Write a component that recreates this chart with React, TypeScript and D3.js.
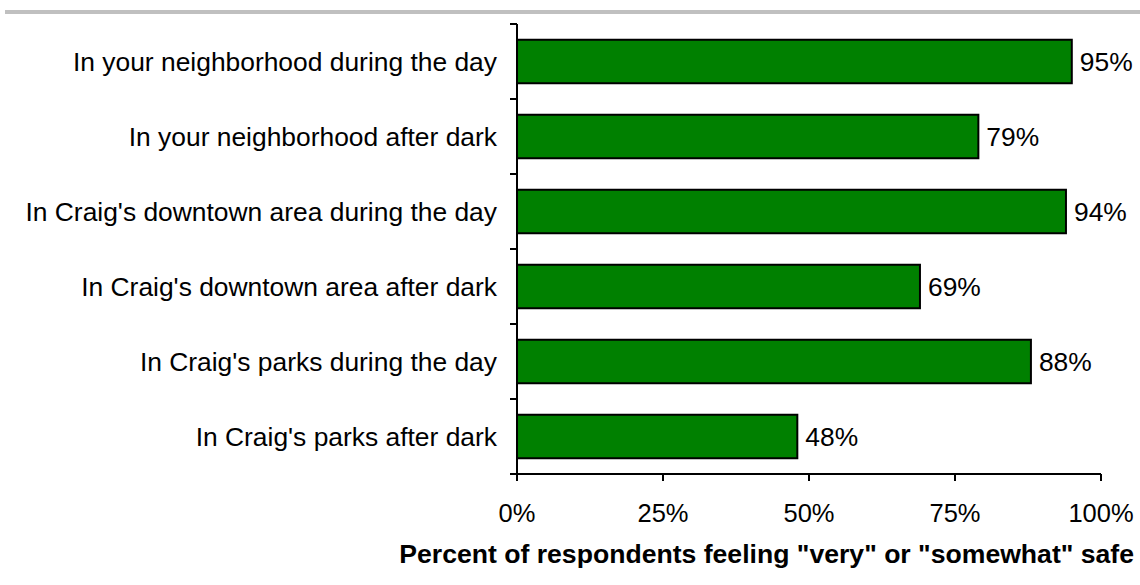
import React, { useEffect, useRef } from 'react';
import * as d3 from 'd3';

const categories = [
  'In your neighborhood during the day',
  'In your neighborhood after dark',
  "In Craig's downtown area during the day",
  "In Craig's downtown area after dark",
  "In Craig's parks during the day",
  "In Craig's parks after dark",
];
const values = [95, 79, 94, 69, 88, 48];
const ticks = [0, 25, 50, 75, 100];
const axisTitle = 'Percent of respondents feeling "very" or "somewhat" safe';

const App: React.FC = () => {
  const ref = useRef<SVGSVGElement>(null);

  useEffect(() => {
    const svg = d3.select(ref.current);
    svg.selectAll('*').remove();
    const font = 'Liberation Sans, Arial, sans-serif';

    const left = 517;
    const right = 1101;
    const top = 24;
    const bottom = 474;

    const x = d3.scaleLinear().domain([0, 100]).range([left, right]);
    const y = d3.scaleBand().domain(categories).range([top, bottom]).paddingInner(0.42).paddingOuter(0.21);

    // gray rule at top
    svg.append('rect').attr('x', 5).attr('y', 10).attr('width', 1135).attr('height', 4).attr('fill', '#c0c0c0');

    const data = categories.map((c, i) => ({ c, v: values[i] }));

    svg
      .append('g')
      .selectAll('rect')
      .data(data)
      .join('rect')
      .attr('x', x(0))
      .attr('y', (d) => y(d.c) ?? 0)
      .attr('width', (d) => x(d.v) - x(0))
      .attr('height', y.bandwidth())
      .attr('fill', '#008000')
      .attr('stroke', '#000')
      .attr('stroke-width', 2);

    svg
      .append('g')
      .selectAll('text')
      .data(data)
      .join('text')
      .attr('x', (d) => x(d.v) + 8)
      .attr('y', (d) => (y(d.c) ?? 0) + y.bandwidth() / 2 + 9)
      .attr('font-family', font)
      .attr('font-size', 26.4)
      .attr('fill', '#000')
      .text((d) => `${d.v}%`);

    // category labels
    svg
      .append('g')
      .selectAll('text')
      .data(categories)
      .join('text')
      .attr('x', left - 20)
      .attr('y', (d) => (y(d) ?? 0) + y.bandwidth() / 2 + 9)
      .attr('text-anchor', 'end')
      .attr('font-family', font)
      .attr('font-size', 26.4)
      .attr('fill', '#000')
      .text((d) => d);

    // y axis line + ticks at band boundaries
    const yAxis = svg.append('g').attr('stroke', '#000').attr('stroke-width', 2);
    yAxis.append('line').attr('x1', left).attr('x2', left).attr('y1', top).attr('y2', bottom);
    const step = (bottom - top) / categories.length;
    d3.range(categories.length + 1).forEach((i) => {
      yAxis
        .append('line')
        .attr('x1', left - 7)
        .attr('x2', left)
        .attr('y1', top + i * step)
        .attr('y2', top + i * step);
    });

    // x axis
    const xAxis = svg.append('g');
    xAxis
      .append('line')
      .attr('x1', left)
      .attr('x2', right)
      .attr('y1', bottom)
      .attr('y2', bottom)
      .attr('stroke', '#000')
      .attr('stroke-width', 2);
    xAxis
      .selectAll('line.tick')
      .data(ticks)
      .join('line')
      .attr('class', 'tick')
      .attr('x1', (d) => x(d))
      .attr('x2', (d) => x(d))
      .attr('y1', bottom)
      .attr('y2', bottom + 7)
      .attr('stroke', '#000')
      .attr('stroke-width', 2);
    xAxis
      .selectAll('text')
      .data(ticks)
      .join('text')
      .attr('x', (d) => x(d))
      .attr('y', 522)
      .attr('text-anchor', 'middle')
      .attr('font-family', font)
      .attr('font-size', 25.5)
      .attr('fill', '#000')
      .text((d) => `${d}%`);

    svg
      .append('text')
      .attr('x', 1134)
      .attr('y', 563)
      .attr('text-anchor', 'end')
      .attr('font-family', font)
      .attr('font-size', 26.6)
      .attr('font-weight', 'bold')
      .attr('fill', '#000')
      .text(axisTitle);
  }, []);

  return (
    <svg
      ref={ref}
      width={1140}
      height={585}
      style={{ position: 'absolute', left: 0, top: 0, background: '#fff' }}
    />
  );
};

export default App;
